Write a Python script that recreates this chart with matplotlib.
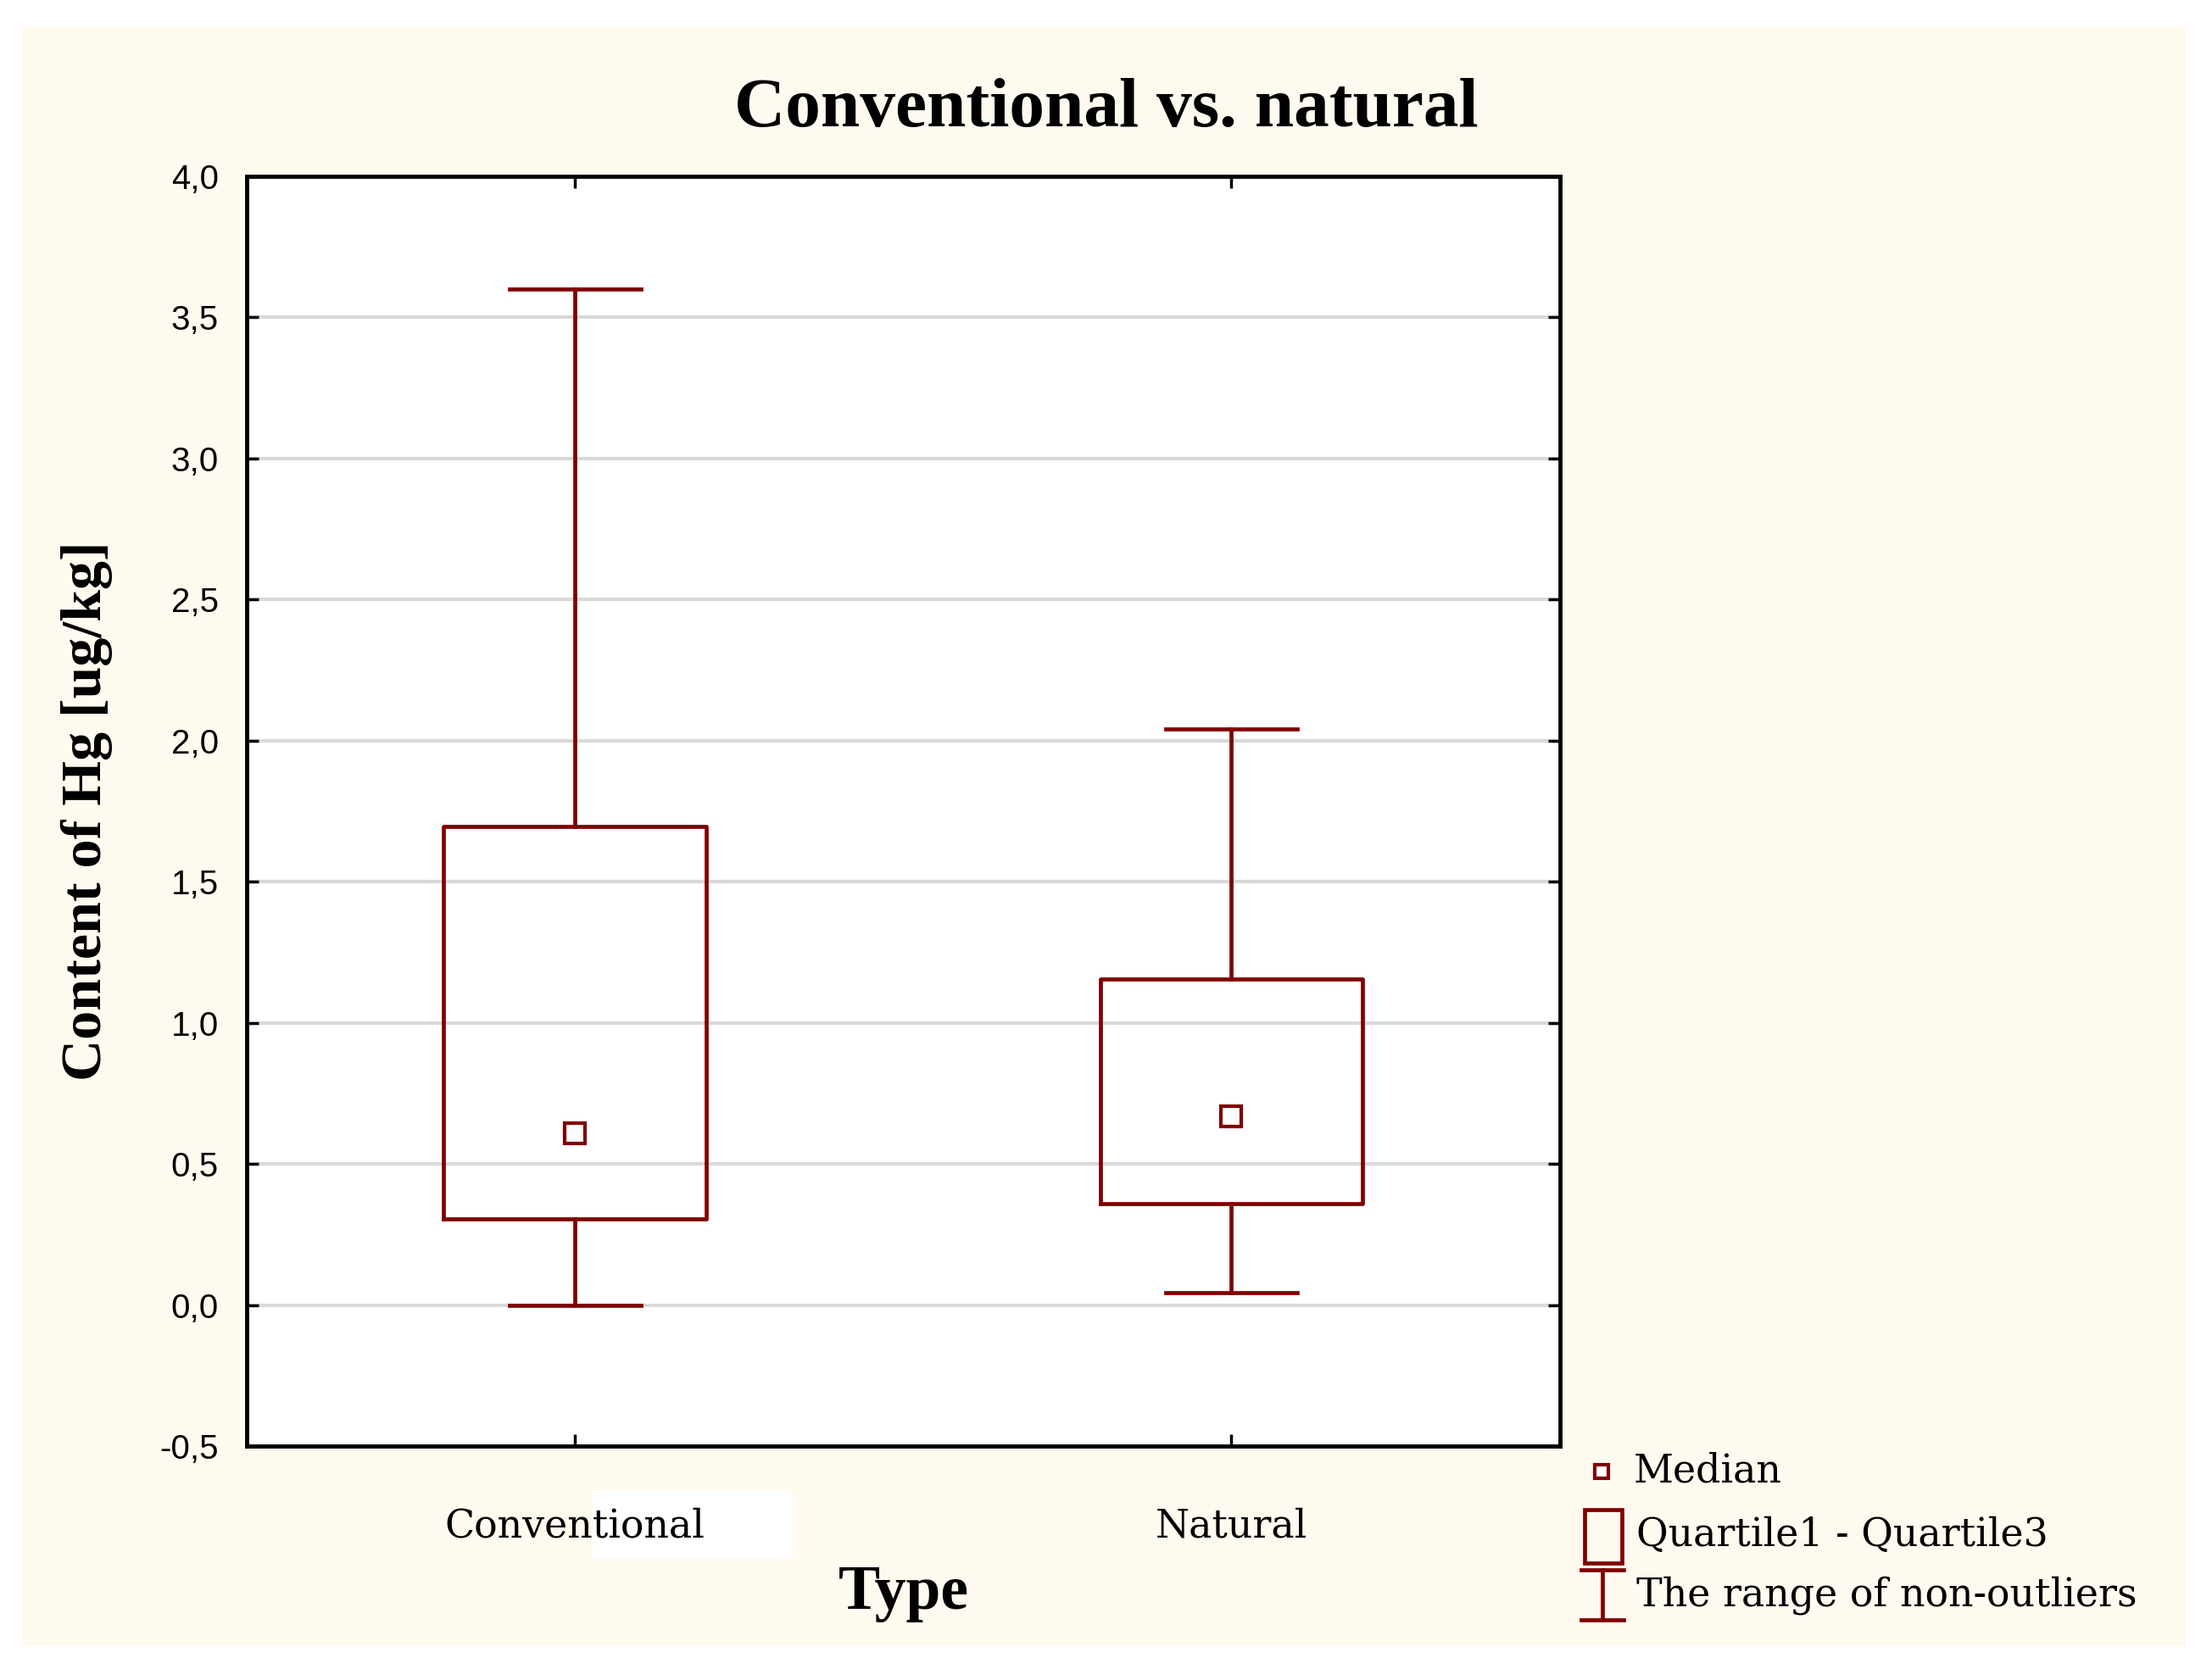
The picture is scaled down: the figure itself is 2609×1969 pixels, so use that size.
import matplotlib.pyplot as plt
from matplotlib.lines import Line2D
from matplotlib.patches import Rectangle

categories = ["Conventional", "Natural"]
whisker_low = [0.0, 0.045]
q1 = [0.305, 0.36]
median = [0.61, 0.67]
q3 = [1.695, 1.155]
whisker_high = [3.6, 2.04]
y_ticks = [-0.5, 0.0, 0.5, 1.0, 1.5, 2.0, 2.5, 3.0, 3.5, 4.0]

dark_red = "#800000"
cream = "#fffaf0"
serif = "Liberation Serif"
wide_serif = "DejaVu Serif"
sans = "Liberation Sans"

fig = plt.figure(figsize=(26.09, 19.69), dpi=100)
fig.patch.set_facecolor("white")
# cream panel behind everything
fig.patches.append(Rectangle((0.0096, 0.0135), 0.979, 0.970, transform=fig.transFigure,
                             facecolor=cream, edgecolor="none", zorder=-10))
# stray white patch under the first category label (as in the original)
fig.patches.append(Rectangle((420 / 1568, 1 - 1105 / 1183), 142 / 1568, 48 / 1183,
                             transform=fig.transFigure, facecolor="white", edgecolor="none", zorder=-5))

ax = fig.add_axes([0.1116, 0.1335, 0.5935, 0.761])
ax.set_facecolor("white")

# boxes, whiskers, medians built from the stats
stats = []
for i, name in enumerate(categories):
    stats.append({"label": name, "whislo": whisker_low[i], "q1": q1[i], "med": median[i],
                  "q3": q3[i], "whishi": whisker_high[i]})
ax.bxp(stats, positions=range(len(categories)), widths=0.4, showfliers=False,
       boxprops=dict(color=dark_red, linewidth=3.4),
       whiskerprops=dict(color=dark_red, linewidth=3.4),
       capprops=dict(color=dark_red, linewidth=3.4),
       medianprops=dict(linewidth=0, alpha=0), capwidths=0.2, zorder=3)
ax.plot(range(len(categories)), median, linestyle="none", marker="s", markersize=17,
        markerfacecolor="white", markeredgecolor=dark_red, markeredgewidth=3, zorder=4)

ax.set_xlim(-0.5, 1.5)
ax.set_ylim(-0.5, 4.0)
ax.set_yticks(y_ticks)
ax.set_yticklabels([f"{v:.1f}".replace(".", ",") for v in y_ticks], fontfamily=sans, fontsize=29)
ax.set_xticks(range(len(categories)))
ax.set_xticklabels(categories, fontfamily=wide_serif, fontsize=33)
ax.tick_params(direction="in", length=10, width=2.5, top=True, right=True, colors="black")
ax.tick_params(axis="x", pad=52)
ax.tick_params(axis="y", pad=24)
ax.grid(axis="y", color="#d9d9d9", linewidth=3, zorder=0)
ax.set_axisbelow(True)
for s in ax.spines.values():
    s.set_linewidth(3.5)

ax.set_xlabel("Type", fontfamily=serif, fontsize=53, fontweight="bold", labelpad=16)
ax.set_ylabel("Content of Hg [ug/kg]", fontfamily=serif, fontsize=49, fontweight="bold", labelpad=40)
fig.text(0.5, 0.934, "Conventional vs. natural", ha="center", va="center",
         fontfamily=serif, fontsize=60, fontweight="bold")

# legend drawn by hand on the figure
def fx(px):
    return px / 1568

def fy(py):
    return 1 - py / 1183

fig.add_artist(Line2D([fx(1135)], [fy(1043)], marker="s", markersize=12, markerfacecolor="white",
                      markeredgecolor=dark_red, markeredgewidth=3, linestyle="none"))
fig.text(fx(1158), fy(1043), "Median", va="center", fontfamily=wide_serif, fontsize=33)
fig.patches.append(Rectangle((fx(1123), fy(1108)), fx(27), 38 / 1183, transform=fig.transFigure,
                             facecolor="none", edgecolor=dark_red, linewidth=3.4))
fig.text(fx(1160), fy(1088), "Quartile1 - Quartile3", va="center", fontfamily=wide_serif, fontsize=33)
fig.add_artist(Line2D([fx(1121), fx(1151)], [fy(1113), fy(1113)], color=dark_red, linewidth=3.4))
fig.add_artist(Line2D([fx(1121), fx(1151)], [fy(1148), fy(1148)], color=dark_red, linewidth=3.4))
fig.add_artist(Line2D([fx(1136), fx(1136)], [fy(1113), fy(1148)], color=dark_red, linewidth=3.4))
fig.text(fx(1160), fy(1131), "The range of non-outliers", va="center", fontfamily=wide_serif, fontsize=33)

fig.savefig("out.png", dpi=100, facecolor=fig.get_facecolor())
